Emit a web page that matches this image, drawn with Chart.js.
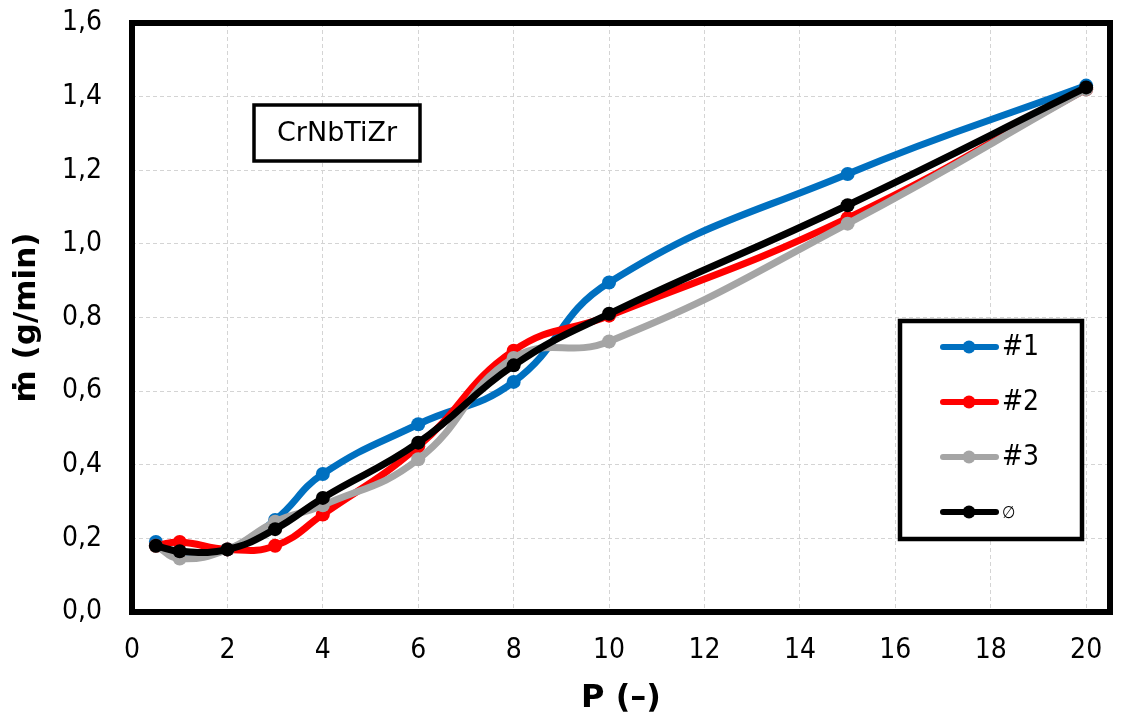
<!DOCTYPE html>
<html>
<head>
<meta charset="utf-8">
<script src="https://cdn.jsdelivr.net/npm/chart.js@4"></script>
<style>
  body { margin: 0; background: #fff; }
</style>
</head>
<body>
<canvas id="grafico" width="1132" height="722"></canvas>
<script>
// valores
const pValues = [0.5, 1, 2, 3, 4, 6, 8, 10, 15, 20];
const serie1 = [0.19, 0.16, 0.17, 0.25, 0.375, 0.51, 0.625, 0.895, 1.19, 1.43];
const serie2 = [0.18, 0.19, 0.17, 0.18, 0.265, 0.45, 0.71, 0.805, 1.07, 1.42];
const serie3 = [0.18, 0.145, 0.17, 0.245, 0.29, 0.415, 0.69, 0.735, 1.055, 1.42];
const media = [0.18, 0.165, 0.17, 0.225, 0.31, 0.46, 0.67, 0.81, 1.105, 1.425];
const xTicks = [0, 2, 4, 6, 8, 10, 12, 14, 16, 18, 20];
const seriesNames = ['#1', '#2', '#3', '\u2205'];
const seriesColors = ['#0070C0', '#FF0000', '#A5A5A5', '#000000'];

const FONT = "'DejaVu Sans Condensed', 'DejaVu Sans', sans-serif";
const FONT_BOLD = "'DejaVu Sans', sans-serif";

function pontos(ys) {
  return pValues.map((p, i) => ({ x: p, y: ys[i] }));
}

const allSeries = [serie1, serie2, serie3, media];
const datasets = allSeries.map((ys, i) => ({
  label: seriesNames[i],
  data: pontos(ys),
  borderColor: seriesColors[i],
  backgroundColor: seriesColors[i],
  borderWidth: 7,
  pointRadius: 7,
  pointHoverRadius: 7,
  pointBorderWidth: 0,
  tension: 0.45,
  order: 3 - i
}));

// moldura da area do grafico + legenda + caixa de texto
const extras = {
  id: 'extras',
  afterDraw(chart) {
    const c = chart.ctx;
    const a = chart.chartArea;
    c.save();
    c.strokeStyle = '#000';
    c.lineWidth = 6;
    c.strokeRect(a.left, a.top, a.right - a.left, a.bottom - a.top);

    // caixa CrNbTiZr
    c.fillStyle = '#fff';
    c.fillRect(254, 105, 166, 56);
    c.lineWidth = 3.5;
    c.strokeRect(254, 105, 166, 56);
    c.fillStyle = '#000';
    c.font = "27px 'DejaVu Sans', sans-serif";
    c.textAlign = 'center';
    c.textBaseline = 'middle';
    c.fillText('CrNbTiZr', 337, 134);

    // legenda
    c.fillStyle = '#fff';
    c.fillRect(900, 321, 182, 218);
    c.lineWidth = 4.5;
    c.strokeRect(900, 321, 182, 218);
    const rows = [347, 402, 457, 512];
    rows.forEach((y, i) => {
      c.strokeStyle = seriesColors[i];
      c.lineWidth = 6;
      c.lineCap = 'round';
      c.beginPath();
      c.moveTo(943, y);
      c.lineTo(996, y);
      c.stroke();
      c.fillStyle = seriesColors[i];
      c.beginPath();
      c.arc(969, y, 6.5, 0, Math.PI * 2);
      c.fill();
      c.fillStyle = '#000';
      c.textAlign = 'left';
      c.font = (i < 3 ? '28px ' : '17px ') + FONT;
      c.fillText(seriesNames[i], 1002, i < 3 ? y + 1 : y + 2);
    });
    c.restore();
  }
};

const ctx = document.getElementById('grafico').getContext('2d');
const grafico = new Chart(ctx, {
  type: 'line',
  data: { datasets: datasets },
  options: {
    responsive: false,
    animation: false,
    layout: { padding: { top: 23, right: 22, left: 0, bottom: 0 } },
    plugins: {
      legend: { display: false },
      tooltip: { enabled: false }
    },
    scales: {
      x: {
        type: 'linear',
        min: 0,
        max: 20.5,
        afterBuildTicks: axis => { axis.ticks = xTicks.map(v => ({ value: v })); },
        afterFit: scale => {
          scale.height = 110;
          scale.paddingLeft = 0;
          scale.paddingRight = 0;
        },
        ticks: {
          padding: 22,
          color: '#000',
          font: { family: FONT, size: 28 },
          maxRotation: 0,
          autoSkip: false
        },
        grid: { color: '#d4d4d4', drawTicks: false, lineWidth: 1 },
        border: { display: false, dash: [4, 3] },
        title: {
          display: true,
          text: 'P (\u2013)',
          color: '#000',
          font: { family: FONT_BOLD, size: 32, weight: 'bold' },
          padding: { top: 0, bottom: 4 }
        }
      },
      y: {
        min: 0,
        max: 1.6,
        afterFit: scale => {
          scale.width = 132;
          scale.paddingTop = 0;
          scale.paddingBottom = 0;
        },
        ticks: {
          stepSize: 0.2,
          padding: 30,
          color: '#000',
          font: { family: FONT, size: 28 },
          callback: v => v.toFixed(1).replace('.', ',')
        },
        grid: { color: '#d4d4d4', drawTicks: false, lineWidth: 1 },
        border: { display: false, dash: [4, 3] },
        title: {
          display: true,
          text: '\u1E41 (g/min)',
          color: '#000',
          font: { family: FONT_BOLD, size: 31, weight: 'bold' },
          padding: { top: 8, bottom: 0 }
        }
      }
    }
  },
  plugins: [extras]
});
</script>
</body>
</html>
